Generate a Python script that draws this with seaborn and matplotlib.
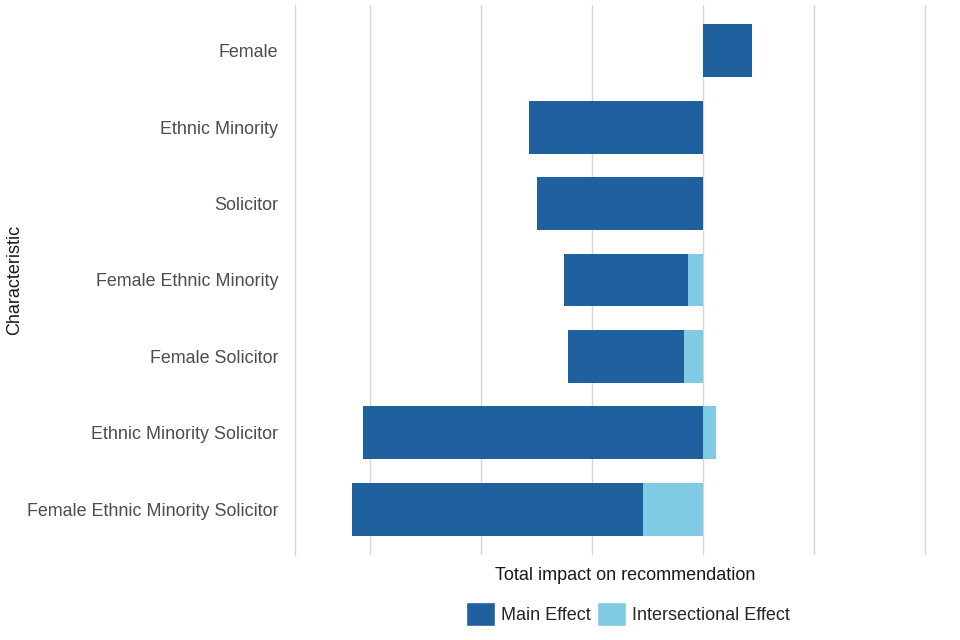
import numpy as np
import pandas as pd
import matplotlib
matplotlib.use('Agg')
import matplotlib.pyplot as plt
import seaborn as sns
from matplotlib.patches import Patch

sns.set_style('white')
plt.rcParams['font.family'] = ['Liberation Sans', 'DejaVu Sans']

# 数据
characteristics = ['Female', 'Ethnic Minority', 'Solicitor', 'Female Ethnic Minority',
                   'Female Solicitor', 'Ethnic Minority Solicitor',
                   'Female Ethnic Minority Solicitor']
main_effect = [0.044, -0.157, -0.150, -0.112, -0.105, -0.306, -0.262]
intersectional_effect = [0.0, 0.0, 0.0, -0.0135, -0.017, 0.012, -0.054]

main_color = '#1F619E'
inter_color = '#80CAE4'
grid_color = '#D6D6D6'

df = pd.DataFrame({'Characteristic': characteristics,
                   'Main': main_effect,
                   'Intersectional': intersectional_effect})
# 负的交互效应堆叠在主效应下面：先画外层（深色），再从0画交互效应（浅色）
df['Outer'] = df['Main'] + df['Intersectional'].clip(upper=0)

fig = plt.figure(figsize=(9.6, 6.4), dpi=100)
ax = fig.add_axes([295 / 960, 1 - 555 / 640, (955 - 295) / 960, 550 / 640])

sns.barplot(data=df, x='Outer', y='Characteristic', orient='h', color=main_color,
            width=0.69, saturation=1, linewidth=0, ax=ax, zorder=3)
sns.barplot(data=df, x='Intersectional', y='Characteristic', orient='h', color=inter_color,
            width=0.69, saturation=1, linewidth=0, ax=ax, zorder=3)

ax.set_xlim(-0.3676, 0.227)
ax.set_ylim(6.6, -0.6)
ax.set_xticks([-0.3, -0.2, -0.1, 0.0, 0.1, 0.2])
ax.set_xticklabels([])
ax.xaxis.grid(True, color=grid_color, linewidth=1)
ax.yaxis.grid(False)
ax.set_axisbelow(True)
for s in ['top', 'right', 'bottom']:
    ax.spines[s].set_visible(False)
ax.spines['left'].set_color(grid_color)
ax.spines['left'].set_linewidth(1)
ax.tick_params(axis='both', length=0)
ax.tick_params(axis='y', labelsize=12.9, labelcolor='#4D4D4D', pad=12)

ax.set_xlabel('Total impact on recommendation', fontsize=13, color='#1A1A1A', labelpad=5)
ax.set_ylabel('Characteristic', fontsize=13, color='#1A1A1A')
ax.yaxis.set_label_coords(-0.4115, 0.5)

handles = [Patch(facecolor=main_color, label='Main Effect'),
           Patch(facecolor=inter_color, label='Intersectional Effect')]
fig.legend(handles=handles, loc='center', bbox_to_anchor=(628 / 960, 1 - 614 / 640),
           ncol=2, frameon=False, fontsize=13, handlelength=1.6, handleheight=1.6,
           handletextpad=0.35, columnspacing=0.35, borderaxespad=0)

fig.savefig('out.png', dpi=100)
